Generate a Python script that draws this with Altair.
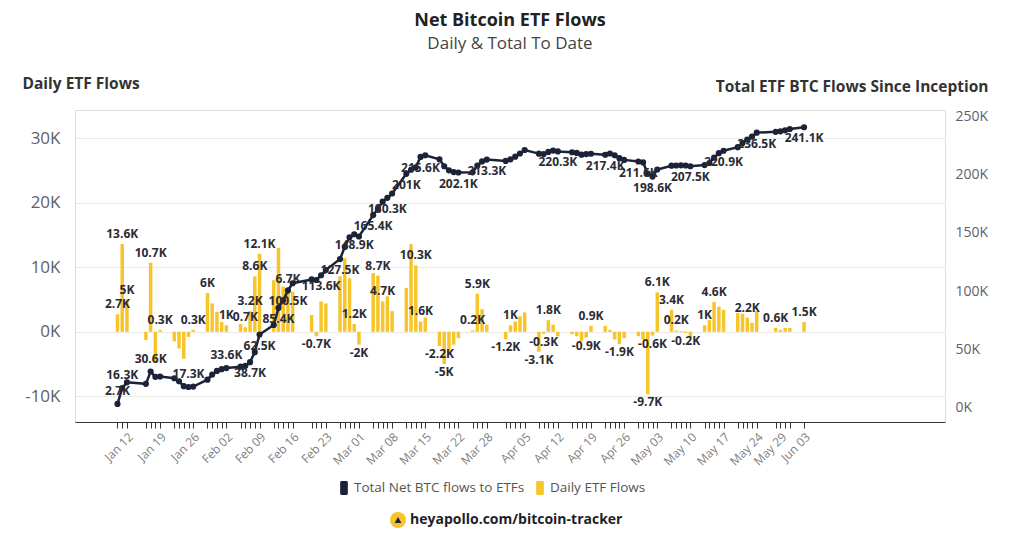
import json
import pandas as pd
import altair as alt

# ---------------- data (values in thousands of BTC) ----------------
holidays = ["2024-01-15", "2024-02-19", "2024-03-29", "2024-05-27"]
dates = [d.strftime("%Y-%m-%d") for d in pd.bdate_range("2024-01-10", "2024-06-03")
         if d.strftime("%Y-%m-%d") not in holidays]

daily = [
    2.7, 13.6, 5.0,
    -1.3, 10.7, -4.6, 0.3,
    -1.5, -2.6, -4.2, -0.8, 0.3,
    6.0, 4.4, 3.1, 1.5, 1.0,
    1.2, 0.7, 3.2, 8.6, 12.1,
    8.0, 13.0, 7.0, 6.7, 6.2,
    2.6, -0.7, 4.7, 4.4,
    8.6, 11.4, 8.3, 1.2, -2.0,
    9.1, 8.7, 4.7, 5.5, 3.2,
    6.8, 13.6, 10.3, 1.6, 2.2,
    -2.2, -5.0, -3.5, -2.0, -1.0,
    0.2, 5.9, 3.5, 1.1,
    -1.2, 1.0, 1.6, 2.4, 3.0,
    -3.1, -0.3, 1.8, 1.1, -0.7,
    -0.4, -0.7, -1.5, -0.9, 0.9,
    0.9, 0.3, -1.2, -1.9, -1.0,
    -0.7, -1.2, -9.7, -0.6, 6.1,
    3.4, 0.2, 0.1, -0.2, -0.9,
    1.0, 1.8, 4.6, 3.9, 3.4,
    2.9, 2.8, 2.2, 1.4, 3.2,
    0.6, 0.3, 0.6, 0.6,
    1.5,
]

total = [
    2.7, 16.3, 21.3,
    20.0, 30.6, 26.0, 26.3,
    24.8, 22.2, 18.0, 17.3, 17.6,
    23.6, 28.0, 31.1, 32.6, 33.6,
    34.8, 35.5, 38.7, 47.3, 62.5,
    70.7, 85.4, 92.0, 100.5, 106.7,
    110.0, 109.5, 113.6, 118.0,
    127.5, 138.0, 146.3, 148.9, 147.0,
    165.4, 171.0, 177.0, 180.3, 184.0,
    201.0, 204.5, 206.5, 215.6, 217.0,
    213.5, 207.5, 204.0, 202.5, 202.1,
    202.3, 208.2, 211.7, 213.3,
    212.1, 213.5, 215.8, 218.5, 221.5,
    218.4, 218.1, 219.9, 221.0, 220.3,
    219.6, 219.0, 217.5, 218.0, 218.3,
    217.4, 218.5, 217.0, 214.5, 213.0,
    211.6, 210.8, 201.1, 198.6, 204.7,
    208.0, 208.2, 208.3, 208.2, 207.5,
    208.5, 210.3, 214.9, 218.8, 220.9,
    224.0, 227.5, 230.5, 233.0, 236.5,
    237.2, 237.6, 238.5, 239.6,
    241.1,
]

bar_label_dates = ["2024-01-10", "2024-01-11", "2024-01-12", "2024-01-17", "2024-01-19",
                   "2024-01-26", "2024-01-29", "2024-02-02", "2024-02-06", "2024-02-07",
                   "2024-02-08", "2024-02-09", "2024-02-15", "2024-02-21", "2024-02-29",
                   "2024-03-01", "2024-03-05", "2024-03-06", "2024-03-13", "2024-03-14",
                   "2024-03-18", "2024-03-19", "2024-03-25", "2024-03-26", "2024-04-01",
                   "2024-04-02", "2024-04-08", "2024-04-09", "2024-04-10", "2024-04-18",
                   "2024-04-19", "2024-04-25", "2024-05-01", "2024-05-02", "2024-05-03",
                   "2024-05-06", "2024-05-07", "2024-05-09", "2024-05-13", "2024-05-15",
                   "2024-05-22", "2024-05-28", "2024-06-03"]
bar_label_texts = ["2.7K", "13.6K", "5K", "10.7K", "0.3K",
                   "0.3K", "6K", "1K", "0.7K", "3.2K",
                   "8.6K", "12.1K", "6.7K", "-0.7K", "1.2K",
                   "-2K", "8.7K", "4.7K", "10.3K", "1.6K",
                   "-2.2K", "-5K", "0.2K", "5.9K", "-1.2K",
                   "1K", "-3.1K", "-0.3K", "1.8K", "-0.9K",
                   "0.9K", "-1.9K", "-9.7K", "-0.6K", "6.1K",
                   "3.4K", "0.2K", "-0.2K", "1K", "4.6K",
                   "2.2K", "0.6K", "1.5K"]

total_label_dates = ["2024-01-10", "2024-01-11", "2024-01-17", "2024-01-25", "2024-02-02",
                     "2024-02-07", "2024-02-09", "2024-02-13", "2024-02-15", "2024-02-22",
                     "2024-02-26", "2024-02-29", "2024-03-04", "2024-03-07", "2024-03-11",
                     "2024-03-14", "2024-03-22", "2024-03-28", "2024-04-12", "2024-04-22",
                     "2024-04-29", "2024-05-02", "2024-05-10", "2024-05-17", "2024-05-24",
                     "2024-06-03"]
total_label_texts = ["2.7K", "16.3K", "30.6K", "17.3K", "33.6K",
                     "38.7K", "62.5K", "85.4K", "100.5K", "113.6K",
                     "127.5K", "148.9K", "165.4K", "180.3K", "201K",
                     "215.6K", "202.1K", "213.3K", "220.3K", "217.4K",
                     "211.6K", "198.6K", "207.5K", "220.9K", "236.5K",
                     "241.1K"]

axis_label_dates = ["Jan 12", "Jan 19", "Jan 26", "Feb 02", "Feb 09", "Feb 16", "Feb 23",
                    "Mar 01", "Mar 08", "Mar 15", "Mar 22", "Mar 28", "Apr 05", "Apr 12",
                    "Apr 19", "Apr 26", "May 03", "May 10", "May 17", "May 24", "May 29",
                    "Jun 03"]

left_ticks = [-10, 0, 10, 20, 30]
right_ticks = [0, 50, 100, 150, 200, 250]

LINE_NAME = "Total Net BTC flows to ETFs"
BAR_NAME = "Daily ETF Flows"
FOOTER = "heyapollo.com/bitcoin-tracker"

# ---------------- styling ----------------
FONT = "Open Sans"
NAVY = "#1c2237"
YELLOW = "#f7c52b"

df = pd.DataFrame({"date": dates, "daily": daily, "total": total})
df["series"] = BAR_NAME
bar_lab = df.merge(pd.DataFrame({"date": bar_label_dates, "lab": bar_label_texts}), on="date")
tot_lab = df.merge(pd.DataFrame({"date": total_label_dates, "lab": total_label_texts}), on="date")
# early total labels sit above the line, later ones below it
tot_above = tot_lab[tot_lab["date"] < "2024-02-05"]
tot_below = tot_lab[tot_lab["date"] >= "2024-02-05"]

tick_ms = [int(pd.Timestamp(d, tz="UTC").value // 10**6) for d in dates]

label_expr = ("indexof(" + json.dumps(axis_label_dates) +
              ", utcFormat(datum.value, '%b %d')) >= 0 ? utcFormat(datum.value, '%b %d') : ''")

X = alt.X(
    "date:T",
    scale=alt.Scale(type="utc", domain=[
        alt.DateTime(year=2024, month=1, date=2, hours=2, utc=True),
        alt.DateTime(year=2024, month=7, date=1, hours=17, utc=True)]),
    axis=alt.Axis(values=tick_ms, labelExpr=label_expr, labelAngle=315, labelOverlap=False,
                  grid=False, domainColor="#333333", tickColor="#333333", tickSize=6,
                  labelColor="#808080", labelFontSize=12, labelPadding=3, labelFont=FONT,
                  title=None),
)

Y_LEFT = alt.Y(
    "daily:Q",
    scale=alt.Scale(domain=[-14, 34.4], nice=False, zero=False),
    axis=alt.Axis(orient="left", values=left_ticks, labelExpr="datum.value + 'K'",
                  grid=True, gridColor="#e8e8e8", domain=False, ticks=False,
                  labelFontSize=17, labelColor="#60606a", labelPadding=15, labelFont=FONT,
                  title="Daily ETF Flows", titleAngle=0, titleAlign="left",
                  titleBaseline="middle", titleX=-53, titleY=-27, titleFontSize=15.5,
                  titleFontWeight="bold", titleColor="#333333", titleFont=FONT),
)

Y_RIGHT = alt.Y(
    "total:Q",
    scale=alt.Scale(domain=[-12.9, 256], nice=False, zero=False),
    axis=alt.Axis(orient="right", values=right_ticks, labelExpr="datum.value + 'K'",
                  grid=False, domain=False, ticks=False,
                  labelFontSize=14, labelColor="#60606a", labelPadding=10, labelFont=FONT,
                  title="Total ETF BTC Flows Since Inception", titleAngle=0, titleAlign="right",
                  titleBaseline="middle", titleX=43, titleY=-24, titleFontSize=15.5,
                  titleFontWeight="bold", titleColor="#333333", titleFont=FONT),
)

legend_symbol = ("M-0.55,-0.8 Q-0.55,-1 -0.35,-1 L0.35,-1 Q0.55,-1 0.55,-0.8 L0.55,0.8 "
                 "Q0.55,1 0.35,1 L-0.35,1 Q-0.55,1 -0.55,0.8 Z")

bars = alt.Chart(df).mark_bar(size=3.5).encode(
    x=X, y=Y_LEFT,
    color=alt.Color("series:N",
                    scale=alt.Scale(domain=[LINE_NAME, BAR_NAME], range=[NAVY, YELLOW]),
                    legend=alt.Legend(orient="none", legendX=262, legendY=371,
                                      direction="horizontal", title=None,
                                      symbolType=legend_symbol, symbolSize=196,
                                      symbolStrokeWidth=0, labelFontSize=13.5,
                                      labelColor="#555555", labelFont=FONT, labelLimit=0,
                                      labelOffset=3, columnPadding=8)),
)

text_style = dict(fontSize=12, fontWeight="bold", color="#2b2b35", font=FONT)
bar_pos = alt.Chart(bar_lab[bar_lab["daily"] >= 0]).mark_text(
    baseline="bottom", dy=-3, **text_style).encode(x=X, y=Y_LEFT, text="lab:N")
bar_neg = alt.Chart(bar_lab[bar_lab["daily"] < 0]).mark_text(
    baseline="top", dy=3, **text_style).encode(x=X, y=Y_LEFT, text="lab:N")

left = alt.layer(bars, bar_pos, bar_neg)

line = alt.Chart(df).mark_line(
    color=NAVY, strokeWidth=2.5,
    point=alt.OverlayMarkDef(color=NAVY, filled=True, size=38),
).encode(x=X, y=Y_RIGHT)
tot_text_above = alt.Chart(tot_above).mark_text(
    baseline="bottom", dy=-6, **text_style).encode(x=X, y=Y_RIGHT, text="lab:N")
tot_text_below = alt.Chart(tot_below).mark_text(
    baseline="top", dy=6, **text_style).encode(x=X, y=Y_RIGHT, text="lab:N")

right = alt.layer(line, tot_text_above, tot_text_below)

footer_df = pd.DataFrame({"t": [FOOTER]})
icon = alt.Chart(footer_df).mark_point(filled=True, shape="circle", size=260,
                                       color=YELLOW, opacity=1).encode(
    x=alt.value(323), y=alt.value(410))
icon_arrow = alt.Chart(footer_df).mark_point(filled=True, shape="triangle-up", size=45,
                                             color=NAVY, opacity=1).encode(
    x=alt.value(323), y=alt.value(410))
footer = alt.Chart(footer_df).mark_text(
    align="left", baseline="middle", fontSize=14, fontWeight="bold",
    color="#1e1e2a", font=FONT).encode(
    x=alt.value(335), y=alt.value(410), text="t:N")

chart = alt.layer(left, right, icon, icon_arrow, footer).resolve_scale(
    y="independent"
).properties(
    width=870, height=312,
    title=alt.Title("Net Bitcoin ETF Flows", subtitle="Daily & Total To Date",
                    anchor="middle", fontSize=18, fontWeight="bold", color="#222222",
                    font=FONT, subtitleFont=FONT, subtitleFontSize=17,
                    subtitleColor="#444444", subtitlePadding=6, offset=24),
    autosize=alt.AutoSizeParams(type="none"),
    padding={"left": 67, "top": 102, "right": 71, "bottom": 111},
).configure_view(stroke=None).configure(background="white")

chart.save("out.html", embed_options={"renderer": "svg", "actions": False})
